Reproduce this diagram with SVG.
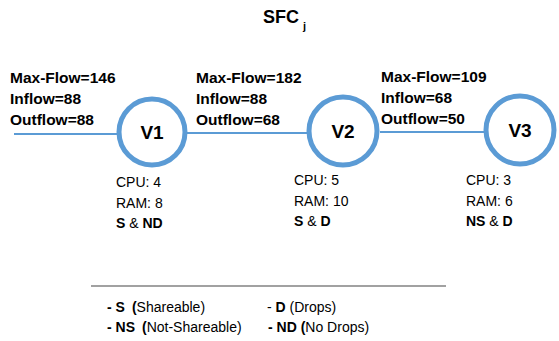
<svg xmlns="http://www.w3.org/2000/svg" width="559" height="341" viewBox="0 0 559 341">
<style>
text{font-family:"Liberation Sans",Arial,sans-serif;fill:#000}
.fl{font-size:15.5px;font-weight:bold}
.nl{font-size:19px;font-weight:bold}
.rs{font-size:14px}
.b{font-weight:bold}
.node{fill:#fff;stroke:#5B9BD5;stroke-width:5}
.edge{stroke:#5B9BD5;stroke-width:2;fill:none}
</style>
<rect width="559" height="341" fill="#fff"/>
<text x="263" y="23" font-size="18" font-weight="bold">SFC<tspan font-size="11" dx="4" dy="7">j</tspan></text>
<g id="connectors">
<line class="edge" x1="14" y1="134" x2="117" y2="134"/>
<line class="edge" x1="187" y1="133" x2="307" y2="133"/>
<line class="edge" x1="380" y1="132" x2="485" y2="132"/>
</g>
<g id="flow1" class="fl">
<text x="10" y="83">Max-Flow=146</text>
<text x="10" y="104">Inflow=88</text>
<text x="10" y="125">Outflow=88</text>
</g>
<g id="flow2" class="fl">
<text x="196" y="83">Max-Flow=182</text>
<text x="196" y="104">Inflow=88</text>
<text x="196" y="125">Outflow=68</text>
</g>
<g id="flow3" class="fl">
<text x="381" y="82">Max-Flow=109</text>
<text x="381" y="103">Inflow=68</text>
<text x="381" y="124">Outflow=50</text>
</g>
<g id="V1">
<circle class="node" cx="152" cy="132" r="33"/>
<text class="nl" x="152" y="139" text-anchor="middle">V1</text>
<text class="rs" x="116" y="187">CPU: 4</text>
<text class="rs" x="116" y="208">RAM: 8</text>
<text class="rs" x="116" y="228"><tspan class="b">S</tspan> &amp; <tspan class="b">ND</tspan></text>
</g>
<g id="V2">
<circle class="node" cx="343" cy="131" r="34"/>
<text class="nl" x="343" y="138" text-anchor="middle">V2</text>
<text class="rs" x="294" y="185">CPU: 5</text>
<text class="rs" x="294" y="206">RAM: 10</text>
<text class="rs" x="294" y="226"><tspan class="b">S</tspan> &amp; <tspan class="b">D</tspan></text>
</g>
<g id="V3">
<circle class="node" cx="520" cy="130" r="34"/>
<text class="nl" x="520" y="137" text-anchor="middle">V3</text>
<text class="rs" x="466" y="185">CPU: 3</text>
<text class="rs" x="466" y="206">RAM: 6</text>
<text class="rs" x="466" y="226"><tspan class="b">NS</tspan> &amp; <tspan class="b">D</tspan></text>
</g>
<g id="legend">
<line x1="91" y1="286" x2="446" y2="286" stroke="#444" stroke-width="1.2"/>
<text class="rs" x="107" y="312"><tspan class="b">- S</tspan><tspan class="b" dx="7">(</tspan>Shareable)</text>
<text class="rs" x="107" y="332"><tspan class="b">- NS</tspan><tspan class="b" dx="7">(</tspan>Not-Shareable)</text>
<text class="rs" x="267" y="312">- <tspan class="b">D</tspan> (Drops)</text>
<text class="rs" x="268" y="332"><tspan class="b">- ND (</tspan>No Drops)</text>
</g>
</svg>
